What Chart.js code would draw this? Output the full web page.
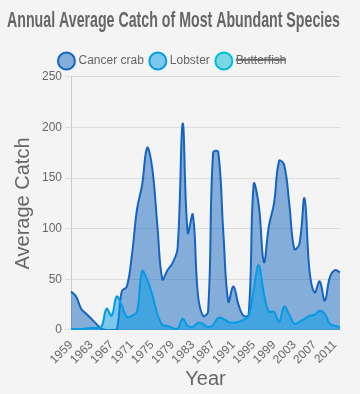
<!DOCTYPE html>
<html>
<head>
<meta charset="utf-8">
<script src="https://cdn.jsdelivr.net/npm/chart.js@4.4.1/dist/chart.umd.min.js"></script>
<style>
  html, body { margin: 0; padding: 0; background: #f4f4f4; }
  #wrap { width: 360px; height: 394px; position: relative; }
</style>
</head>
<body>
<div id="wrap"><canvas id="catchChart"></canvas></div>
<script>
// years on the x axis
const years = [];
for (let y = 1959; y <= 2012; y++) years.push(String(y));

// values
const crab = [38, 33, 21, 16, 11, 6, 1, 0, 0, 0,
  38, 43, 74, 119, 143, 180, 160, 104, 50, 59,
  66, 81, 204, 96, 114, 35, 14, 18, 175, 176,
  97, 28, 43, 25, 14, 15, 144, 123, 67, 103,
  125, 167, 163, 125, 80, 85, 130, 58, 37, 48,
  29, 52, 59, 57];
const lobster = [1, 1, 1, 1.5, 2, 2, 3, 21, 14, 33,
  24, 13, 14, 18, 58, 50, 35, 16, 5, 4,
  2, 1, 11, 4, 3, 7, 6, 3, 5, 12,
  11, 8, 7, 8, 10, 14, 40, 64, 36, 18,
  18, 8, 23, 15, 6, 8, 11, 14, 15, 19,
  16, 6, 4, 3];
// hidden in the legend, so never drawn
const butterfish = [0, 0, 0, 0, 0, 0, 0, 2, 4, 3,
  5, 6, 4, 3, 2, 2, 1, 1, 1, 2,
  1, 1, 2, 1, 1, 1, 1, 1, 2, 2,
  1, 1, 1, 1, 1, 1, 2, 2, 1, 1,
  1, 1, 1, 1, 1, 1, 1, 1, 1, 1,
  1, 1, 1, 1];

const yTicks = [0, 50, 100, 150, 200, 250];

function series(label, data, line, fill, order, hidden) {
  return {
    label: label, data: data, order: order, hidden: hidden,
    borderColor: line, backgroundColor: fill, borderWidth: 2,
    pointRadius: 0, pointHoverRadius: 0, tension: 0.4, fill: 'origin'
  };
}

const ctx = document.getElementById('catchChart').getContext('2d');
new Chart(ctx, {
  type: 'line',
  data: {
    labels: years,
    datasets: [
      series('Cancer crab', crab, '#1565c0', 'rgba(21,101,192,0.5)', 2, false),
      series('Lobster', lobster, '#039be5', 'rgba(3,155,229,0.5)', 1, false),
      series('Butterfish', butterfish, '#00bcd4', 'rgba(0,188,212,0.5)', 0, true)
    ]
  },
  options: {
    responsive: true,
    maintainAspectRatio: false,
    animation: false,
    layout: { padding: { left: 7, right: 20, bottom: 3 } },
    plugins: {
      tooltip: { enabled: false },
      title: {
        display: true,
        text: 'Annual Average Catch of Most Abundant Species',
        color: '#666',
        font: { family: '"Liberation Sans Narrow", "Liberation Sans", Arial', size: 21.6, weight: 'bold' },
        padding: { top: 8, bottom: 13 }
      },
      legend: {
        labels: {
          usePointStyle: true,
          color: '#666',
          font: { size: 12 },
          padding: 8,
          sort: (a, b) => a.datasetIndex - b.datasetIndex
        }
      }
    },
    scales: {
      x: {
        grid: { display: false },
        border: { color: '#ccc' },
        ticks: {
          autoSkip: false,
          color: '#666',
          font: { size: 12 },
          padding: 0,
          maxRotation: 45,
          minRotation: 45,
          callback: function (v, i) {
            const y = Number(years[i]);
            return (y - 1959) % 4 === 0 ? years[i] : '';
          }
        },
        title: { display: true, text: 'Year', color: '#666', font: { size: 20 }, padding: 0 }
      },
      y: {
        min: 0, max: 250,
        afterBuildTicks: (axis) => { axis.ticks = yTicks.map(v => ({ value: v })); },
        grid: { color: '#ddd', tickLength: 6 },
        border: { color: '#ccc' },
        ticks: { color: '#666', font: { size: 12 } },
        title: { display: true, text: 'Average Catch', color: '#666', font: { size: 20 }, padding: 4 }
      }
    }
  }
});
</script>
</body>
</html>
